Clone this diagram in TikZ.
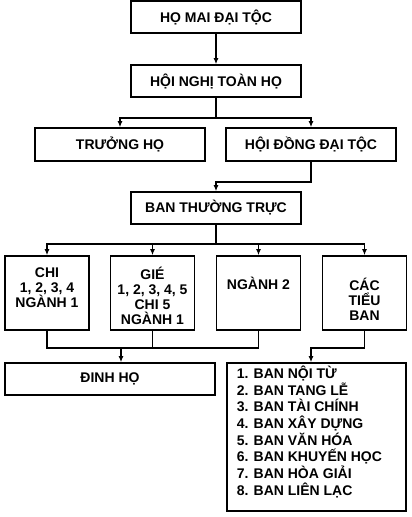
\documentclass[tikz,border=0pt]{standalone}
\usepackage{fontspec}
\setmainfont{Liberation Sans}
\usetikzlibrary{arrows.meta}
\begin{document}
\lineskiplimit=-100pt
\begin{tikzpicture}[x=1pt,y=-1pt,line width=1.6pt,
    box/.style={draw,rectangle,minimum width=170pt,minimum height=32pt,inner sep=0pt,font=\fontsize{14}{15}\selectfont\bfseries},
    tall/.style={draw,rectangle,minimum width=84pt,minimum height=74pt,inner sep=0pt},
    lbl/.style={inner sep=0pt,align=center,font=\fontsize{14}{15}\selectfont\bfseries},
    arr/.style={-{Latex[length=6pt,width=5pt]}}]
        \useasboundingbox (0,0) rectangle (412,517);
        \draw (216,17)    node[box] (ho) {HỌ MAI ĐẠI TỘC};
        \draw (216,81)    node[box] (hoinghi) {HỘI NGHỊ TOÀN HỌ};
        \draw (120,144.5) node[box,minimum height=33pt] (truongho) {TRƯỞNG HỌ};
        \draw (311,144.5) node[box,minimum height=33pt] (hoidong) {HỘI ĐỒNG ĐẠI TỘC};
        \draw (216,208)   node[box] (bantt) {BAN THƯỜNG TRỰC};
        \draw (47,293)    node[tall] (chi) {};
        \draw (152.5,293) node[tall] (gie) {};
        \draw (258.5,293) node[tall] (nganh) {};
        \draw (364.5,293) node[tall] (tieuban) {};
        \draw (110,379)   node[box,minimum width=210pt] (dinhho) {ĐINH HỌ};
        \draw (316.5,437) node[draw,rectangle,minimum width=179pt,minimum height=148pt] (dsban) {};
        \node[lbl] (chit) at (47,288) {CHI\\1, 2, 3, 4\\NGÀNH 1};
        \node[lbl] (giet) at (152.5,295.5) {GIÉ\\1, 2, 3, 4, 5\\CHI 5\\NGÀNH 1};
        \node[lbl] (nganht) at (258.5,283) {NGÀNH 2};
        \node[lbl] (tieubant) at (364.5,299) {CÁC\\TIỂU\\BAN};
        \node[lbl,align=left,anchor=north west,font=\fontsize{14}{16.7}\selectfont\bfseries] (dsbant) at (236,365)
            {1. BAN NỘI TỪ\\2. BAN TANG LỄ\\3. BAN TÀI CHÍNH\\4. BAN XÂY DỰNG\\5. BAN VĂN HÓA\\6. BAN KHUYẾN HỌC\\7. BAN HÒA GIẢI\\8. BAN LIÊN LẠC};
        \coordinate (j1) at (216,118);
        \coordinate (j2) at (311,182);
        \coordinate (j3) at (216,244);
        \coordinate (j4) at (121,348);
        \coordinate (j5) at (311,348);
        \draw[arr] (ho) -- (hoinghi);
        \draw (hoinghi) -- (j1);
        \draw[arr] (j1) -| (truongho);
        \draw[arr] (j1) -| (hoidong);
        \draw[arr] (hoidong) -- (j2) -| (bantt);
        \draw (bantt) -- (j3);
        \foreach \n in {chi,gie,nganh,tieuban}
            \draw[arr] (j3) -| (\n);
        \foreach \n in {chi,gie,nganh}
            \draw (\n) |- (j4);
        \draw[arr] (j4) -- (j4 |- dinhho.north);
        \draw[arr] (tieuban) |- (j5) -- (j5 |- dsban.north);
    \end{tikzpicture}
\end{document}
